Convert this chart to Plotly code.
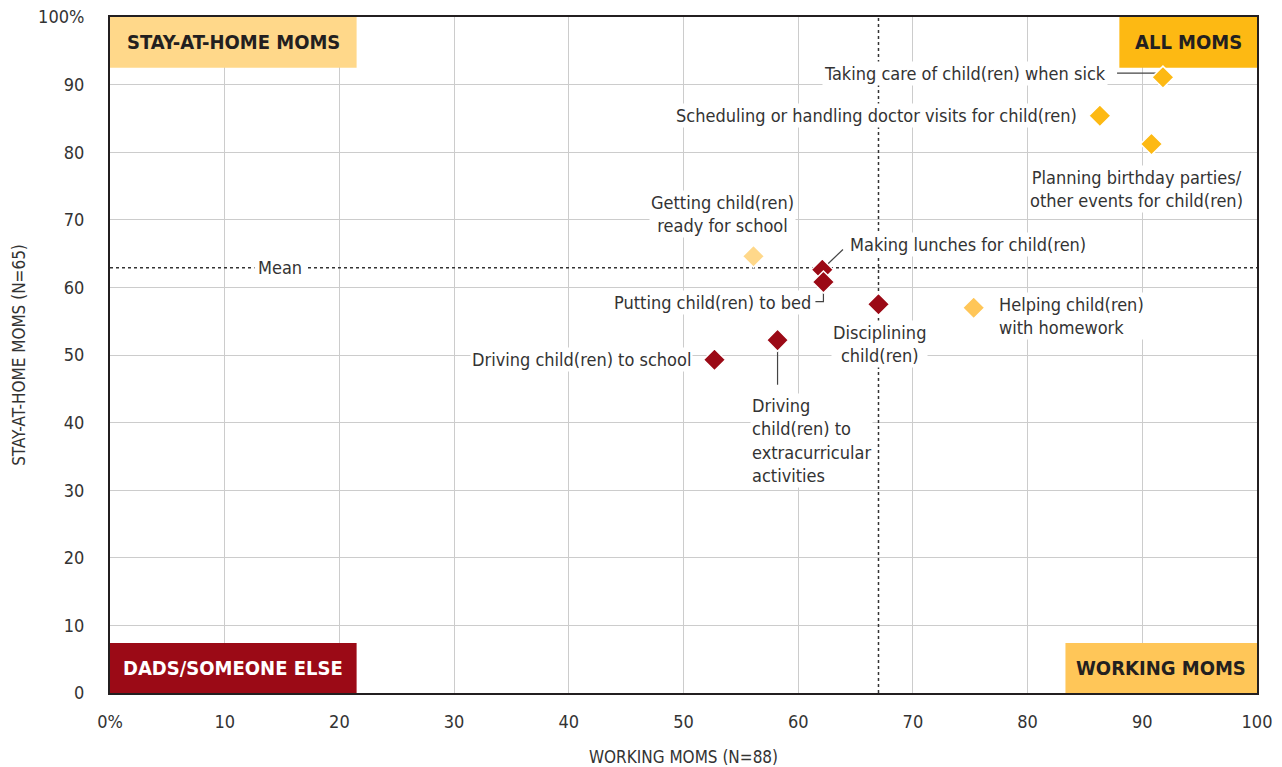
import plotly.graph_objects as go

# data
tasks = [
    "Taking care of child(ren) when sick",
    "Scheduling or handling doctor visits for child(ren)",
    "Planning birthday parties/<br>other events for child(ren)",
    "Getting child(ren)<br>ready for school",
    "Making lunches for child(ren)",
    "Putting child(ren) to bed",
    "Disciplining<br>child(ren)",
    "Helping child(ren)<br>with homework",
    "Driving child(ren) to school",
    "Driving<br>child(ren) to<br>extracurricular<br>activities",
]
working_moms = [91.8, 86.3, 90.8, 56.1, 62.1, 62.2, 67.0, 75.3, 52.7, 58.2]
stay_home_moms = [91.1, 85.4, 81.2, 64.6, 62.6, 60.8, 57.5, 57.0, 49.3, 52.2]
group = ["all", "all", "all", "stay", "other", "other", "other", "working", "other", "other"]

mean_working = 67.0
mean_stay_home = 62.9

tick_vals = [0, 10, 20, 30, 40, 50, 60, 70, 80, 90, 100]
x_tick_text = ["0%", "10", "20", "30", "40", "50", "60", "70", "80", "90", "100"]
y_tick_text = ["0", "10", "20", "30", "40", "50", "60", "70", "80", "90", "100%"]

colors = {
    "all": "#FDB913",
    "stay": "#FFD88A",
    "working": "#FFC658",
    "other": "#9B0A16",
}

FONT = "DejaVu Sans Condensed, Liberation Sans Narrow, Roboto, sans-serif"
TXT = "#333333"

# label placement (x, y, xanchor) per task, in data units
label_pos = [
    (87.0, 91.7, "right"),
    (84.5, 85.4, "right"),
    (89.5, 74.5, "center"),
    (53.4, 70.8, "center"),
    (64.3, 66.3, "left"),
    (61.3, 57.8, "right"),
    (67.1, 51.6, "center"),
    (77.3, 55.7, "left"),
    (50.8, 49.4, "right"),
    (55.8, 37.3, "left"),
]

fig = go.Figure()

fig.add_trace(go.Scatter(
    x=working_moms,
    y=stay_home_moms,
    mode="markers",
    marker=dict(
        symbol="diamond",
        size=17,
        color=[colors[g] for g in group],
        line=dict(color="white", width=1.5),
    ),
    hovertext=[t.replace("<br>", " ") for t in tasks],
    hoverinfo="text+x+y",
    showlegend=False,
))

shapes = []

# mean lines
shapes.append(dict(type="line", x0=mean_working, x1=mean_working, y0=0, y1=100,
                   line=dict(color=TXT, width=1.5, dash="dot"), layer="between"))
shapes.append(dict(type="line", x0=0, x1=100, y0=mean_stay_home, y1=mean_stay_home,
                   line=dict(color=TXT, width=1.5, dash="dot"), layer="between"))

# quadrant boxes
boxes = [
    (0, 21.5, 92.5, 100, colors["stay"], "STAY-AT-HOME MOMS", "#231F20"),
    (88.0, 100, 92.5, 100, colors["all"], "ALL MOMS", "#231F20"),
    (0, 21.5, 0, 7.4, colors["other"], "DADS/SOMEONE ELSE", "white"),
    (83.3, 100, 0, 7.4, colors["working"], "WORKING MOMS", "#231F20"),
]
annotations = []
for x0, x1, y0, y1, c, label, fc in boxes:
    shapes.append(dict(type="rect", x0=x0, x1=x1, y0=y0, y1=y1, fillcolor=c,
                       line=dict(width=0), layer="between"))
    annotations.append(dict(x=(x0 + x1) / 2, y=(y0 + y1) / 2, text="<b>%s</b>" % label,
                            showarrow=False, font=dict(family=FONT, size=20, color=fc)))

# leader lines, anchored on the points
lead = dict(color="#444444", width=1.2)
sx, sy = working_moms[0], stay_home_moms[0]
shapes.append(dict(type="line", x0=87.8, x1=sx - 0.3, y0=91.7, y1=91.7, line=lead, layer="between"))
mx, my = working_moms[4], stay_home_moms[4]
shapes.append(dict(type="line", x0=mx + 0.5, x1=mx + 1.8, y0=my + 0.9, y1=my + 3.0, line=lead, layer="between"))
px_, py_ = working_moms[5], stay_home_moms[5]
shapes.append(dict(type="path", path="M %f %f L %f %f L %f %f" % (px_, py_, px_, 57.9, 61.5, 57.9),
                   line=lead, layer="between"))
dx, dy = working_moms[9], stay_home_moms[9]
shapes.append(dict(type="line", x0=dx, x1=dx, y0=dy, y1=45.6, line=lead, layer="between"))

for t, (lx, ly, anchor) in zip(tasks, label_pos):
    annotations.append(dict(x=lx, y=ly, text=t, showarrow=False, xanchor=anchor, align=anchor,
                            bgcolor="white", borderpad=1,
                            font=dict(family=FONT, size=18, color=TXT)))

annotations.append(dict(x=14.8, y=mean_stay_home, text="Mean", showarrow=False,
                        bgcolor="white", borderpad=3,
                        font=dict(family=FONT, size=18, color=TXT)))

fig.update_layout(
    width=1282,
    height=767,
    margin=dict(l=110, r=25, t=17, b=74),
    plot_bgcolor="white",
    paper_bgcolor="white",
    font=dict(family=FONT, size=18, color=TXT),
    shapes=shapes,
    annotations=annotations,
    xaxis=dict(
        range=[0, 100],
        tickvals=tick_vals,
        ticktext=x_tick_text,
        automargin=False,
        showgrid=True,
        gridcolor="#CCCCCC",
        gridwidth=1,
        zeroline=False,
        showline=True,
        linecolor="#231F20",
        linewidth=2,
        mirror=True,
        ticks="outside",
        ticklen=11,
        tickcolor="white",
        title=dict(text="WORKING MOMS (N=88)", font=dict(size=17), standoff=27),
    ),
    yaxis=dict(
        range=[0, 100],
        tickvals=tick_vals,
        ticktext=y_tick_text,
        automargin=False,
        showgrid=True,
        gridcolor="#CCCCCC",
        gridwidth=1,
        zeroline=False,
        showline=True,
        linecolor="#231F20",
        linewidth=2,
        mirror=True,
        ticks="outside",
        ticklen=20,
        tickcolor="white",
        title=dict(text="STAY-AT-HOME MOMS (N=65)", font=dict(size=17), standoff=8),
    ),
)

# drop the browser's default body margin so the figure sits at the page corner
fig.write_html("out.html", config={"displayModeBar": False},
               post_script="document.body.style.margin='0';")
